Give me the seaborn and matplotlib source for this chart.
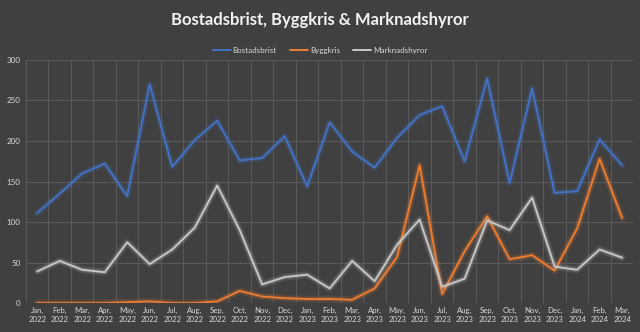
import matplotlib
matplotlib.use("Agg")
import matplotlib.pyplot as plt
import matplotlib.patheffects as pe
from matplotlib.lines import Line2D
import seaborn as sns
import pandas as pd
import numpy as np

months = ["Jan,\n2022", "Feb,\n2022", "Mar,\n2022", "Apr,\n2022", "May,\n2022", "Jun,\n2022",
          "Jul,\n2022", "Aug,\n2022", "Sep,\n2022", "Oct,\n2022", "Nov,\n2022", "Dec,\n2022",
          "Jan,\n2023", "Feb,\n2023", "Mar,\n2023", "Apr,\n2023", "May,\n2023", "Jun,\n2023",
          "Jul,\n2023", "Aug,\n2023", "Sep,\n2023", "Oct,\n2023", "Nov,\n2023", "Dec,\n2023",
          "Jan,\n2024", "Feb,\n2024", "Mar,\n2024"]
bostadsbrist = [111, 135, 160, 172, 132, 270, 168, 201, 225, 176, 179, 206,
                144, 223, 187, 167, 204, 232, 243, 175, 277, 148, 265, 136,
                138, 202, 170]
byggkris = [0, 0, 0, 0, 1, 2, 0, 0, 2, 15, 8, 6,
            5, 5, 4, 18, 57, 170, 11, 64, 107, 54, 59, 40,
            92, 178, 105]
marknadshyror = [39, 52, 41, 38, 75, 48, 66, 93, 145, 90, 23, 32,
                 35, 18, 52, 27, 72, 103, 20, 30, 102, 90, 130, 45,
                 41, 66, 56]
series_names = ["Bostadsbrist", "Byggkris", "Marknadshyror"]
colors = ["#4472C4", "#ED7D31", "#C8C8C8"]

x = np.arange(len(months))
df = pd.concat([
    pd.DataFrame({"x": x, "value": v, "serie": n})
    for n, v in zip(series_names, [bostadsbrist, byggkris, marknadshyror])
])

bg = "#404040"
sns.set_theme(style="dark")
plt.rcParams['font.family'] = ['Lato', 'DejaVu Sans']

fig = plt.figure(figsize=(6.4, 3.32), dpi=100, facecolor=bg)
ax = fig.add_axes([0.0406, 0.0873, 0.949, 0.732])
ax.set_facecolor(bg)

sns.lineplot(data=df, x="x", y="value", hue="serie", palette=colors,
             hue_order=series_names, linewidth=1.3, ax=ax, legend=False)

for line, c in zip(ax.lines, colors):
    line.set_path_effects([pe.Stroke(linewidth=5, foreground=c, alpha=0.12),
                           pe.Stroke(linewidth=3, foreground=c, alpha=0.2),
                           pe.Normal()])

ax.set_xlim(-0.5, len(months) - 0.5)
ax.set_ylim(0, 300)
ax.set_yticks(range(0, 301, 50))
ax.set_xticks(x)
ax.set_xticklabels(months, fontsize=5.6, color="#D9D9D9", linespacing=1.3)
ax.tick_params(axis="y", labelsize=5.8, labelcolor="#D9D9D9", length=0, pad=4)
ax.tick_params(axis="x", length=0, pad=3)
ax.set_xlabel("")
ax.set_ylabel("")

for v in np.arange(-0.5, len(months), 1.0):
    ax.axvline(v, color="#595959", linewidth=0.8, zorder=0)
for v in range(0, 301, 50):
    ax.axhline(v, color="#595959", linewidth=0.8, zorder=0)
ax.grid(False)
for s in ax.spines.values():
    s.set_visible(False)

handles = [Line2D([0], [0], color=c, linewidth=1.4) for c in colors]
fig.legend(handles, series_names, loc="center", bbox_to_anchor=(0.5, 0.848),
           ncol=3, frameon=False, fontsize=5.8, labelcolor="#D9D9D9",
           handlelength=2.3, handletextpad=0.2, columnspacing=1.6)

fig.text(0.5, 0.94, "Bostadsbrist, Byggkris & Marknadshyror", ha="center", va="center",
         fontsize=12, fontweight="bold", color="#F2F2F2")

fig.savefig("out.png", dpi=100, facecolor=bg)
